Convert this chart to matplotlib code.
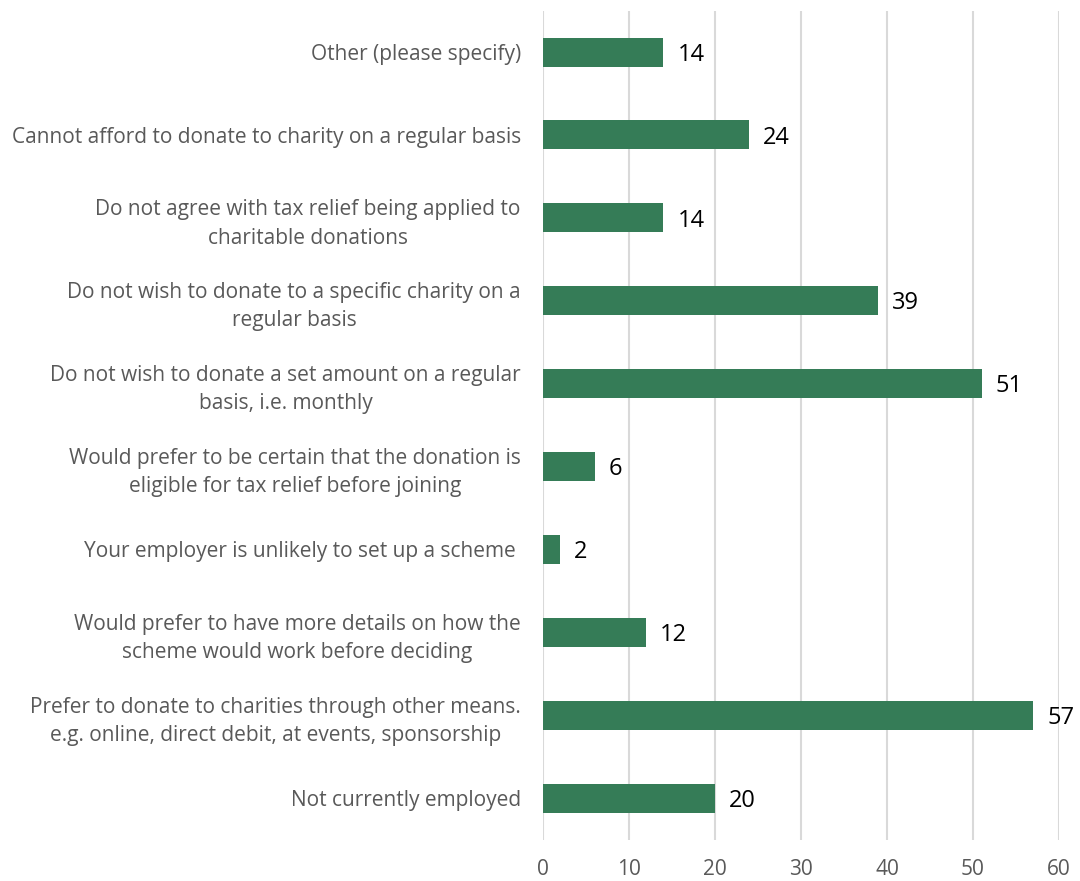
import matplotlib
matplotlib.use("Agg")
import matplotlib.pyplot as plt

plt.rcParams['font.family'] = ['Open Sans', 'DejaVu Sans']

categories = [
    "Other (please specify)",
    "Cannot afford to donate to charity on a regular basis",
    "Do not agree with tax relief being applied to\ncharitable donations",
    "Do not wish to donate to a specific charity on a\nregular basis",
    "Do not wish to donate a set amount on a regular\nbasis, i.e. monthly",
    "Would prefer to be certain that the donation is\neligible for tax relief before joining",
    "Your employer is unlikely to set up a scheme ",
    "Would prefer to have more details on how the\nscheme would work before deciding",
    "Prefer to donate to charities through other means.\ne.g. online, direct debit, at events, sponsorship",
    "Not currently employed",
]
values = [14, 24, 14, 39, 51, 6, 2, 12, 57, 20]
xticks = [0, 10, 20, 30, 40, 50, 60]

bar_color = "#357C57"
text_gray = "#595959"
grid_gray = "#D9D9D9"

fig = plt.figure(figsize=(10.8, 8.81), dpi=100)
ax = fig.add_axes([0.5028, 0.0471, 0.4778, 0.9409])

ypos = list(range(len(categories)))
ax.barh(ypos, values, height=0.35, color=bar_color, zorder=3)
ax.set_ylim(len(categories) - 0.5, -0.5)
ax.set_xlim(0, 60)

for y, v in zip(ypos, values):
    ax.annotate(str(v), xy=(v, y), xytext=(10, -2), textcoords="offset points",
                va="center", ha="left", fontsize=17, color="black")

ax.set_yticks(ypos)
ax.set_yticklabels(categories, fontsize=15, color=text_gray, ha="right",
                   multialignment="center", linespacing=1.45)
ax.tick_params(axis="y", length=0, pad=16)
ax.set_xticks(xticks)
ax.set_xticklabels([str(t) for t in xticks], fontsize=15, color=text_gray)
ax.tick_params(axis="x", length=0, pad=14)

ax.grid(axis="x", color=grid_gray, linewidth=1.5, zorder=0)
for s in ax.spines.values():
    s.set_visible(False)

fig.savefig("out.png", dpi=100)
